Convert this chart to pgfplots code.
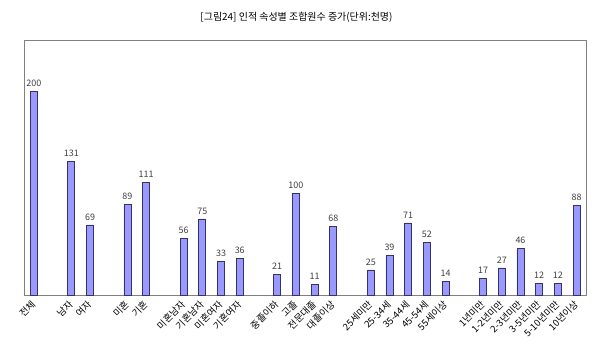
\documentclass[border=0pt]{standalone}
\usepackage{fontspec}
\setmainfont{Noto Sans CJK KR}
\usepackage{pgfplots}
\pgfplotsset{compat=1.18}
\definecolor{barfill}{HTML}{9999FF}
\definecolor{barline}{HTML}{333366}
\definecolor{framec}{HTML}{808080}
\begin{document}
\begin{tikzpicture}
\path[use as bounding box] (0,0) rectangle (595bp,354bp);
\node[font=\fontsize{10}{11}\selectfont] at (296.5bp,337bp) {[그림24] 인적 속성별 조합원수 증가(단위:천명)};
\begin{axis}[
  at={(24.5bp,58.5bp)}, anchor=south west,
  scale only axis, width=561.5bp, height=255.5bp,
  xmin=-0.5, xmax=29.5, ymin=0, ymax=250,
  axis line style={framec, line width=0.9bp},
  ytick=\empty,
  xtick={0,2,3,5,6,8,9,10,11,13,14,15,16,18,19,20,21,22,24,25,26,27,28,29},
  xticklabels={전체,남자,여자,미혼,기혼,미혼남자,기혼남자,미혼여자,기혼여자,중졸이하,고졸,전문대졸,대졸이상,25세미만,25-34세,35-44세,45-54세,55세이상,1년미만,1-2년미만,2-3년미만,3-5년미만,5-10년미만,10년이상},
  major tick length=0pt,
  xticklabel style={font=\fontsize{9.5}{10}\selectfont, rotate=45, anchor=east, yshift=-5bp, xshift=-2bp},
  ybar, bar width=7bp,
  nodes near coords,
  every node near coord/.append style={font=\fontsize{9}{10}\selectfont, text=black!75, yshift=1bp},
  /pgf/number format/assume math mode=true,
]
\addplot[fill=barfill, draw=barline, line width=0.7bp] coordinates {
(0,200) (2,131) (3,69) (5,89) (6,111) (8,56) (9,75) (10,33) (11,36)
(13,21) (14,100) (15,11) (16,68) (18,25) (19,39) (20,71) (21,52) (22,14)
(24,17) (25,27) (26,46) (27,12) (28,12) (29,88)};
\end{axis}
\end{tikzpicture}
\end{document}
